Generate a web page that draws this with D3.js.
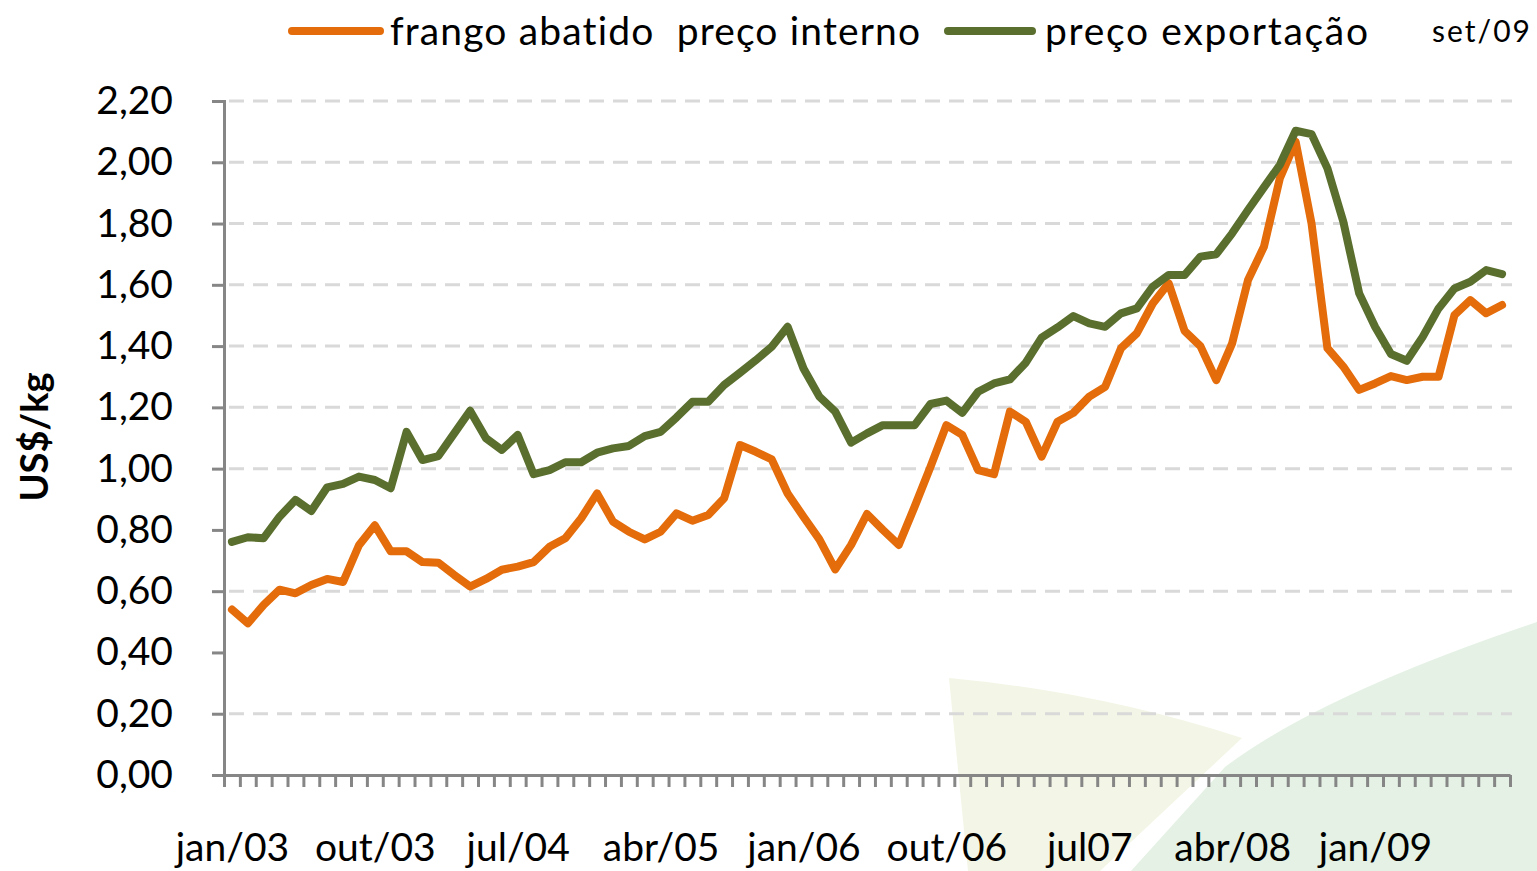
<!DOCTYPE html>
<html>
<head>
<meta charset="utf-8">
<script src="https://cdn.jsdelivr.net/npm/d3@7"></script>
<style>
  body { margin: 0; background: #fff; }
  svg { display: block; font-family: Lato, "Open Sans", sans-serif; font-variant-ligatures: none; }
</style>
</head>
<body>
<script>
// monthly prices, jan/03 .. set/09 (US$/kg)
var interno = [0.54, 0.495, 0.555, 0.605, 0.593, 0.62, 0.64, 0.63, 0.75, 0.815,
  0.73, 0.73, 0.695, 0.693, 0.653, 0.615, 0.64, 0.67, 0.68, 0.695,
  0.745, 0.773, 0.838, 0.919, 0.827, 0.794, 0.769, 0.794, 0.854, 0.83,
  0.849, 0.903, 1.077, 1.055, 1.03, 0.919, 0.843, 0.769, 0.671, 0.751,
  0.852, 0.80, 0.751, 0.876, 1.006, 1.142, 1.11, 0.995, 0.982, 1.186,
  1.153, 1.039, 1.153, 1.182, 1.235, 1.267, 1.393, 1.442, 1.539, 1.605,
  1.45, 1.40, 1.289, 1.409, 1.616, 1.724, 1.947, 2.067, 1.80, 1.393,
  1.333, 1.257, 1.278, 1.302, 1.289, 1.30, 1.30, 1.501, 1.55, 1.507, 1.534];

var exportacao = [0.761, 0.776, 0.773, 0.843, 0.898, 0.862, 0.939, 0.95, 0.974, 0.963,
  0.936, 1.12, 1.028, 1.041, 1.115, 1.189, 1.099, 1.061, 1.11, 0.982,
  0.995, 1.021, 1.021, 1.052, 1.066, 1.074, 1.106, 1.12, 1.167, 1.218,
  1.218, 1.273, 1.313, 1.354, 1.398, 1.463, 1.327, 1.235, 1.186, 1.085,
  1.115, 1.142, 1.142, 1.142, 1.211, 1.222, 1.182, 1.251, 1.278, 1.291,
  1.346, 1.428, 1.461, 1.498, 1.474, 1.463, 1.507, 1.523, 1.594, 1.632,
  1.632, 1.692, 1.70, 1.768, 1.844, 1.918, 1.991, 2.103, 2.092, 1.98,
  1.806, 1.572, 1.463, 1.374, 1.352, 1.43, 1.523, 1.588, 1.61, 1.648, 1.635];

var labelIdx = [0, 9, 18, 27, 36, 45, 54, 63, 72];
var labelText = ["jan/03", "out/03", "jul/04", "abr/05", "jan/06", "out/06", "jul07", "abr/08", "jan/09"];
var yTicks = [0, 0.2, 0.4, 0.6, 0.8, 1.0, 1.2, 1.4, 1.6, 1.8, 2.0, 2.2];
var gridVals = [0.2, 0.6, 1.0, 1.2, 1.4, 1.6, 1.8, 2.0, 2.2];
var seriesNames = ["frango abatido  preço interno", "preço exportação"];

var orange = "#e46c0a", green = "#5a6f2e", axisGray = "#868686";

var svg = d3.select("body").append("svg")
    .attr("width", 1537)
    .attr("height", 871);

// faded background shapes (bottom right)
svg.append("path")
    .attr("d", "M949,678 Q1100,692 1242,738 L1100,871 L968,871 Z")
    .attr("fill", "#f3f6e6");
svg.append("path")
    .attr("d", "M1131,871 L1225,767 Q1320,695 1537,622 L1537,871 Z")
    .attr("fill", "#e4f1e4");

var n = interno.length;
var x = d3.scaleLinear().domain([-0.5, n - 0.5]).range([224, 1510]);
var y = d3.scaleLinear().domain([0, 2.2]).range([775, 101]);

// gridlines
svg.append("g").selectAll("line")
    .data(gridVals)
    .enter().append("line")
        .attr("x1", 229).attr("x2", 1512)
        .attr("y1", function(d){ return y(d); })
        .attr("y2", function(d){ return y(d); })
        .attr("stroke", "#d9d9d9")
        .attr("stroke-width", 3)
        .attr("stroke-dasharray", "15,9");

// y axis
var yAxis = svg.append("g")
    .attr("transform", "translate(224,0)")
    .call(d3.axisLeft(y).tickValues(yTicks).tickSize(12).tickPadding(39)
        .tickFormat(function(d){ return d.toFixed(2).replace(".", ","); }));
yAxis.select(".domain").attr("stroke", axisGray).attr("stroke-width", 3);
yAxis.selectAll(".tick line").attr("stroke", axisGray).attr("stroke-width", 3);
yAxis.selectAll("text").attr("font-size", 39).attr("fill", "#000")
    .attr("font-family", "Lato, sans-serif");

// x axis: ticks between months
var xAxis = svg.append("g")
    .attr("transform", "translate(0,775)")
    .call(d3.axisBottom(x).tickValues(d3.range(n + 1).map(function(i){ return i - 0.5; }))
        .tickSize(12).tickSizeOuter(0).tickFormat(""));
xAxis.select(".domain").attr("stroke", axisGray).attr("stroke-width", 3);
xAxis.selectAll(".tick line").attr("stroke", axisGray).attr("stroke-width", 3);

var xLabels = svg.append("g")
    .attr("transform", "translate(0,775)")
    .call(d3.axisBottom(x).tickValues(labelIdx).tickSize(0).tickPadding(58)
        .tickFormat(function(d, i){ return labelText[i]; }));
xLabels.select(".domain").remove();
xLabels.selectAll("text").attr("font-size", 39).attr("fill", "#000")
    .attr("font-family", "Lato, sans-serif");

// y title
svg.append("text")
    .attr("transform", "translate(48,437) rotate(-90)")
    .attr("text-anchor", "middle")
    .attr("font-size", 38)
    .attr("font-weight", "bold")
    .text("US$/kg");

// lines
var line = d3.line()
    .x(function(d, i){ return x(i); })
    .y(function(d){ return y(d); });

svg.append("path")
    .datum(interno)
    .attr("d", line)
    .attr("fill", "none")
    .attr("stroke", orange)
    .attr("stroke-width", 8)
    .attr("stroke-linejoin", "round")
    .attr("stroke-linecap", "round");

svg.append("path")
    .datum(exportacao)
    .attr("d", line)
    .attr("fill", "none")
    .attr("stroke", green)
    .attr("stroke-width", 8)
    .attr("stroke-linejoin", "round")
    .attr("stroke-linecap", "round");

// legend
var legend = svg.append("g");
legend.append("line").attr("x1", 292).attr("x2", 380).attr("y1", 31).attr("y2", 31)
    .attr("stroke", orange).attr("stroke-width", 8).attr("stroke-linecap", "round");
legend.append("text").attr("x", 390).attr("y", 45).attr("font-size", 39)
    .attr("textLength", 530).attr("lengthAdjust", "spacing")
    .style("white-space", "pre")
    .text(seriesNames[0]);
legend.append("line").attr("x1", 948).attr("x2", 1032).attr("y1", 31).attr("y2", 31)
    .attr("stroke", green).attr("stroke-width", 8).attr("stroke-linecap", "round");
legend.append("text").attr("x", 1045).attr("y", 45).attr("font-size", 39)
    .attr("textLength", 323).attr("lengthAdjust", "spacing")
    .text(seriesNames[1]);
legend.append("text").attr("x", 1432).attr("y", 42).attr("font-size", 30)
    .attr("textLength", 98).attr("lengthAdjust", "spacing")
    .text("set/09");
</script>
</body>
</html>
